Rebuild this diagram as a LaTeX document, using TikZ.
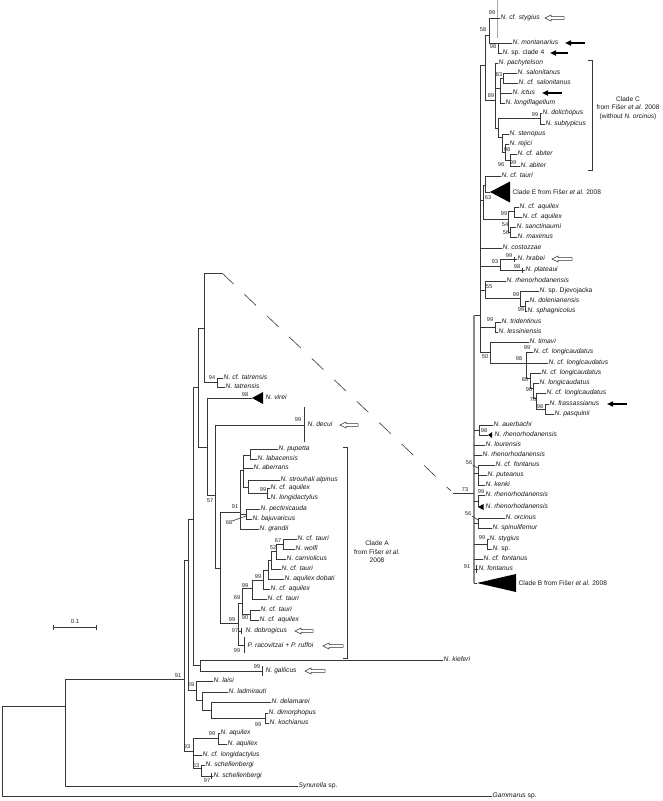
\documentclass[tikz,border=0pt]{standalone}
\usepackage{fontspec}
\setmainfont{Liberation Sans}
\usetikzlibrary{arrows.meta}
\newcommand\lfont{\fontsize{6.7}{7}\selectfont\itshape}
\newcommand\bfont{\fontsize{5.6}{6}\selectfont}
\newcommand\cfont{\fontsize{6.6}{8.5}\selectfont}
\newcounter{bsc}
\newcommand\bsl[3]{\stepcounter{bsc}\node[bsv] (bs\arabic{bsc}) at (#1,#2) {#3};}
\newcommand\leafnode[4]{\node[leaf] (#1) at (#2,#3) {#4};}
\newcommand\hln[3]{\draw[br] (#1,#3) -- (#2,#3);}
\newcommand\vln[3]{\draw[br] (#1,#2) -- (#1,#3);}
\newcommand\tobr[3]{\draw[br] (#1,#2) -- (#3.west);}
\newcommand\tri[4]{\fill[black] (#1,#2) -- (#3,#2-#4) -- (#3,#2+#4) -- cycle;}
\newcommand\hollowarr[3]{\draw[harr] (#1,#3) -- (#1+6,#3-3) -- (#1+6,#3-1.3) -- (#2,#3-1.3) -- (#2,#3+1.3) -- (#1+6,#3+1.3) -- (#1+6,#3+3) -- cycle;}
\newcommand\blackarr[3]{\draw[barr] (#2,#3) -- (#1,#3);}
\tikzset{
  br/.style={draw=black!78, line width=0.6pt},
  bk/.style={draw=black!45, line width=1.6pt},
  leaf/.style={anchor=west, inner sep=0.5pt, font=\lfont, text=black!90, text height=4.8pt, text depth=1.3pt},
  bsv/.style={inner sep=0pt, font=\bfont, text=black!85},
  clabel/.style={anchor=west, inner sep=0.5pt, font=\cfont, text=black!90},
  cblock/.style={inner sep=0pt, font=\cfont, text=black!90, align=center},
  harr/.style={draw=black!80, fill=white, line width=0.5pt},
  barr/.style={draw=black, line width=1.6pt, -{Triangle[length=6pt,width=5pt]}}
}
\begin{document}
\begin{tikzpicture}[x=1pt,y=-1pt]
\useasboundingbox (0,0) rectangle (662,801);
\fill[white] (0,0) rectangle (662,801);

% ---------------- right tree leaves
\leafnode{r1}{500}{18}{N. cf. stygius}
\leafnode{r2}{512}{43}{N. montanarius}
\leafnode{r3}{502}{53}{N. \textup{sp. clade 4}}
\leafnode{r4}{498}{63}{N. pachytelson}
\leafnode{r5}{517}{73}{N. salonitanus}
\leafnode{r6}{518}{83}{N. cf. salonitanus}
\leafnode{r7}{512}{93}{N. ictus}
\leafnode{r8}{505}{103}{N. longiflagellum}
\leafnode{r9}{542}{113}{N. dolichopus}
\leafnode{r10}{545}{124}{N. subtypicus}
\leafnode{r11}{509}{134}{N. stenopus}
\leafnode{r12}{509}{144}{N. rejici}
\leafnode{r13}{517}{154}{N. cf. abiter}
\leafnode{r14}{520}{166}{N. abiter}
\leafnode{r15}{501}{176}{N. cf. tauri}
\leafnode{r17}{519}{207}{N. cf. aquilex}
\leafnode{r18}{522}{217}{N. cf. aquilex}
\leafnode{r19}{516}{227}{N. sanctinaumi}
\leafnode{r20}{517}{237}{N. maximus}
\leafnode{r21}{502}{248}{N. costozzae}
\leafnode{r22}{517}{259}{N. hrabei}
\leafnode{r23}{525}{270}{N. plateaui}
\leafnode{r24}{506}{281}{N. rhenorhodanensis}
\leafnode{r25}{539}{291}{N. \textup{sp. Djevojacka}}
\leafnode{r26}{529}{301}{N. dolenianensis}
\leafnode{r27}{527}{311}{N. sphagnicolus}
\leafnode{r28}{501}{322}{N. tridentinus}
\leafnode{r29}{498}{332}{N. lessiniensis}
\leafnode{r30}{529}{342}{N. timavi}
\leafnode{r31}{533}{352}{N. cf. longicaudatus}
\leafnode{r32}{548}{363}{N. cf. longicaudatus}
\leafnode{r33}{541}{373}{N. cf. longicaudatus}
\leafnode{r34}{539}{383}{N. longicaudatus}
\leafnode{r35}{546}{393}{N. cf. longicaudatus}
\leafnode{r36}{549}{404}{N. frassassianus}
\leafnode{r37}{554}{414}{N. pasquinii}
\leafnode{r38}{493}{425}{N. auerbachi}
\leafnode{r39}{494}{435}{N. rhenorhodanensis}
\leafnode{r40}{485}{445}{N. lourensis}
\leafnode{r41}{482}{455}{N. rhenorhodanensis}
\leafnode{r42}{495}{465}{N. cf. fontanus}
\leafnode{r43}{487}{475}{N. puteanus}
\leafnode{r44}{485}{485}{N. kenki}
\leafnode{r45}{485}{495}{N. rhenorhodanensis}
\leafnode{r46}{485}{507}{N. rhenorhodanensis}
\leafnode{r47}{505}{518}{N. orcinus}
\leafnode{r48}{492}{528}{N. spinulifemur}
\leafnode{r49}{489}{539}{N. stygius}
\leafnode{r50}{492}{549}{N. \textup{sp.}}
\leafnode{r51}{483}{559}{N. cf. fontanus}
\leafnode{r52}{478}{569}{N. fontanus}

% ---------------- right tree branches
\draw[br, draw=black!35] (497,0) -- (497,38);
\tobr{489}{18}{r1}
\vln{489}{18}{43}
\hln{485}{489}{35}
\tobr{489}{43}{r2}
\vln{498}{43}{53}
\tobr{498}{53}{r3}
\vln{485}{35}{100}
\hln{480}{485}{65}
\hln{485}{495}{100}
\vln{495}{63}{128}
\tobr{495}{63}{r4}
\hln{495}{500}{88}
\vln{500}{78}{103}
\hln{500}{503}{78}
\vln{503}{73}{83}
\tobr{503}{73}{r5}
\tobr{503}{83}{r6}
\tobr{500}{93}{r7}
\tobr{500}{103}{r8}
\hln{495}{498}{128}
\vln{498}{118}{137}
\hln{498}{540}{118}
\vln{540}{113}{124}
\tobr{540}{113}{r9}
\tobr{540}{124}{r10}
\hln{498}{502}{137}
\vln{502}{134}{152}
\tobr{502}{134}{r11}
\hln{502}{505}{152}
\vln{505}{144}{160}
\tobr{505}{144}{r12}
\hln{505}{510}{160}
\vln{510}{154}{166}
\tobr{510}{154}{r13}
\tobr{510}{166}{r14}

\vln{480}{65}{352}
\hln{474}{480}{315}
\hln{480}{483}{200}
\vln{483}{185}{219}
\hln{483}{485}{185}
\vln{485}{176}{192}
\tobr{485}{176}{r15}
\hln{485}{490}{192}
\tri{490}{192}{510}{10.5}
\node[clabel] (cladeE) at (512,192) {Clade E from Fišer \textit{et al.} 2008};
\hln{483}{508}{219}
\vln{508}{211}{232}
\hln{508}{514}{211}
\vln{514}{207}{217}
\tobr{514}{207}{r17}
\tobr{514}{217}{r18}
\hln{508}{510}{232}
\vln{510}{227}{237}
\tobr{510}{227}{r19}
\tobr{510}{237}{r20}
\tobr{480}{248}{r21}
\hln{480}{500}{266}
\vln{500}{259}{270}
\hln{500}{514}{259}
\vln{514}{256.5}{261.5}
\tobr{514}{259}{r22}
\hln{500}{522}{270}
\vln{522}{267.5}{272.5}
\tobr{522}{270}{r23}
\hln{480}{485}{290}
\vln{485}{281}{298}
\tobr{485}{281}{r24}
\hln{485}{520}{298}
\vln{520}{291}{306}
\tobr{520}{291}{r25}
\hln{520}{525}{306}
\vln{525}{301}{311}
\tobr{525}{301}{r26}
\tobr{525}{311}{r27}
\hln{480}{495}{327}
\vln{495}{322}{332}
\tobr{495}{322}{r28}
\tobr{495}{332}{r29}
\hln{480}{490}{352}
\vln{490}{342}{363}
\tobr{490}{342}{r30}
\hln{490}{526}{363}
\vln{526}{352}{378}
\tobr{526}{352}{r31}
\tobr{526}{363}{r32}
\hln{526}{530}{378}
\vln{530}{373}{388}
\tobr{530}{373}{r33}
\hln{530}{533}{388}
\vln{533}{383}{398}
\tobr{533}{383}{r34}
\hln{533}{536}{398}
\vln{536}{393}{409}
\tobr{536}{393}{r35}
\hln{536}{545}{409}
\vln{545}{404}{414}
\tobr{545}{404}{r36}
\tobr{545}{414}{r37}

\draw[bk] (474,315) -- (474,583);
\hln{474}{479}{430}
\vln{479}{425}{435}
\tobr{479}{425}{r38}
\hln{479}{488}{435}
\tri{488}{435}{492}{2.8}
\tobr{474}{445}{r40}
\tobr{474}{455}{r41}
\hln{474}{478}{473}
\vln{478}{465}{485}
\tobr{478}{465}{r42}
\tobr{478}{475}{r43}
\tobr{478}{485}{r44}
\draw[br] (472.5,465) -- (478,468);
\hln{453}{474}{493}
\hln{474}{478}{501}
\vln{478}{495}{507}
\tobr{478}{495}{r45}
\tri{478}{507}{483.5}{3}
\hln{474}{478}{523}
\vln{478}{518}{528}
\tobr{478}{518}{r47}
\tobr{478}{528}{r48}
\draw[br] (472,516) -- (478,520);
\hln{474}{487}{544}
\vln{487}{539}{549}
\tobr{487}{539}{r49}
\tobr{487}{549}{r50}
\tobr{474}{559}{r51}
\tobr{474}{569}{r52}
\vln{476}{565}{573}
\hln{474}{477}{583}
\tri{477}{583}{516}{9}
\node[clabel] (cladeB) at (518,583) {Clade B from Fišer \textit{et al.} 2008};

% right bootstrap values
\bsl{492}{13}{99}
\bsl{483}{30}{58}
\bsl{493}{47}{98}
\bsl{499}{75}{83}
\bsl{491}{96}{89}
\bsl{535}{115}{99}
\bsl{507}{150}{98}
\bsl{501}{165}{96}
\bsl{513}{163}{99}
\bsl{488}{198}{63}
\bsl{504}{214}{99}
\bsl{505}{225}{54}
\bsl{506}{233}{56}
\bsl{509}{256}{99}
\bsl{495}{262}{93}
\bsl{517}{267}{98}
\bsl{489}{287}{55}
\bsl{516}{295}{99}
\bsl{521}{310}{99}
\bsl{490}{320}{99}
\bsl{527}{348}{99}
\bsl{485}{357}{50}
\bsl{519}{359}{98}
\bsl{525}{380}{80}
\bsl{529}{390}{90}
\bsl{533}{400}{70}
\bsl{540}{407}{98}
\bsl{484}{431}{98}
\bsl{469}{463}{56}
\bsl{465}{490}{73}
\bsl{481}{492}{99}
\bsl{468}{514}{56}
\bsl{482}{538}{99}
\bsl{467}{567}{91}

% clade C bracket
\draw[br] (588,60) -- (592,60) -- (592,170) -- (588,170);
\node[cblock] (cladeC) at (628,108) {Clade C\\from Fišer \textit{et al.} 2008\\(without \textit{N. orcinus})};

% ---------------- left tree leaves
\leafnode{l1}{223}{378}{N. cf. tatrensis}
\leafnode{l2}{225}{387}{N. tatrensis}
\leafnode{l3}{265}{398}{N. virei}
\leafnode{l4}{307}{425}{N. decui}
\leafnode{l5}{278}{449}{N. pupetta}
\leafnode{l6}{257}{459}{N. labacensis}
\leafnode{l7}{253}{468}{N. aberrans}
\leafnode{l8}{280}{480}{N. strouhali alpinus}
\leafnode{l9}{270}{488}{N. cf. aquilex}
\leafnode{l10}{270}{498}{N. longidactylus}
\leafnode{l11}{260}{509}{N. pectinicauda}
\leafnode{l12}{252}{519}{N. bajuvaricus}
\leafnode{l13}{259}{529}{N. grandii}
\leafnode{l14}{297}{539}{N. cf. tauri}
\leafnode{l15}{295}{549}{N. wolfi}
\leafnode{l16}{286}{559}{N. carniolicus}
\leafnode{l17}{281}{569}{N. cf. tauri}
\leafnode{l18}{284}{579}{N. aquilex dobati}
\leafnode{l19}{270}{589}{N. cf. aquilex}
\leafnode{l20}{267}{599}{N. cf. tauri}
\leafnode{l21}{260}{610}{N. cf. tauri}
\leafnode{l22}{259}{620}{N. cf. aquilex}
\leafnode{l23}{245}{631}{N. dobrogicus}
\leafnode{l24}{247}{646}{P. racovitzai \textup{+} P. ruffoi}
\leafnode{l25}{443}{660}{N. kieferi}
\leafnode{l26}{265}{671}{N. gallicus}
\leafnode{l27}{213}{681}{N. laisi}
\leafnode{l28}{228}{692}{N. ladmirauti}
\leafnode{l29}{271}{702}{N. delamarei}
\leafnode{l30}{268}{713}{N. dimorphopus}
\leafnode{l31}{269}{723}{N. kochianus}
\leafnode{l32}{220}{733}{N. aquilex}
\leafnode{l33}{227}{744}{N. aquilex}
\leafnode{l34}{202}{755}{N. cf. longidactylus}
\leafnode{l35}{205}{765}{N. schellenbergi}
\leafnode{l36}{213}{776}{N. schellenbergi}
\leafnode{l37}{298}{786}{Synurella \textup{sp.}}
\leafnode{l38}{492}{796}{Gammarus \textup{sp.}}

% ---------------- left tree branches
\vln{2}{706}{796}
\hln{2}{65}{706}
\tobr{2}{796}{l38}
\vln{65}{679}{786}
\tobr{65}{786}{l37}
\hln{65}{184}{679}
\vln{184}{560}{751}
\hln{184}{188}{560}
\hln{184}{193}{751}
\vln{188}{519}{690}
\hln{188}{193}{519}
\hln{188}{196}{690}
\vln{193}{387}{665}
\hln{193}{198}{387}
\hln{193}{200}{665}
\vln{198}{328}{447}
\hln{198}{204}{328}
\hln{198}{207}{447}
\vln{204}{273}{382}
\hln{204}{222}{273}
\draw[br, dash pattern=on 16pt off 15pt] (222,273) -- (451,491);
\hln{204}{217}{382}
\vln{217}{378}{387}
\tobr{217}{378}{l1}
\tobr{217}{387}{l2}
\vln{207}{398}{495}
\hln{207}{252}{398}
\tri{252}{398}{263}{6}
\hln{207}{215}{495}
\vln{215}{425}{568}
\hln{215}{304}{425}
\vln{304}{407}{442}
\hln{215}{220}{568}
\vln{220}{512}{623}
\hln{220}{240}{512}
\hln{220}{238}{623}
\vln{240}{470}{529}
\hln{240}{243}{470}
\hln{240}{246}{514}
\tobr{240}{529}{l13}
\vln{243}{455}{487}
\hln{243}{250}{455}
\vln{250}{449}{459}
\tobr{250}{449}{l5}
\tobr{250}{459}{l6}
\tobr{243}{468}{l7}
\hln{243}{248}{487}
\vln{248}{480}{493}
\tobr{248}{480}{l8}
\hln{248}{267}{493}
\vln{267}{488}{498}
\tobr{267}{488}{l9}
\tobr{267}{498}{l10}
\vln{246}{509}{519}
\tobr{246}{509}{l11}
\tobr{246}{519}{l12}
\draw[br] (232,521) -- (246,516);
\vln{238}{603}{645}
\hln{238}{242}{603}
\hln{238}{241}{631}
\vln{241}{628}{634}
\hln{238}{244}{645}
\vln{244}{637}{653}
\vln{242}{588}{614}
\hln{242}{252}{588}
\hln{242}{250}{614}
\vln{252}{580}{599}
\hln{252}{263}{580}
\tobr{252}{599}{l20}
\vln{263}{570}{589}
\hln{263}{268}{570}
\tobr{263}{589}{l19}
\vln{268}{560}{579}
\hln{268}{271}{560}
\tobr{268}{579}{l18}
\vln{271}{551}{569}
\hln{271}{276}{551}
\tobr{271}{569}{l17}
\vln{276}{544}{559}
\hln{276}{283}{544}
\tobr{276}{559}{l16}
\vln{283}{539}{549}
\tobr{283}{539}{l14}
\tobr{283}{549}{l15}
\vln{250}{610}{620}
\tobr{250}{610}{l21}
\tobr{250}{620}{l22}
\vln{200}{660}{671}
\tobr{200}{660}{l25}
\hln{200}{262}{671}
\vln{262}{666}{676}
\vln{196}{681}{700}
\tobr{196}{681}{l27}
\hln{196}{202}{700}
\vln{202}{692}{710}
\tobr{202}{692}{l28}
\hln{202}{211}{710}
\vln{211}{702}{718}
\tobr{211}{702}{l29}
\hln{211}{265}{718}
\vln{265}{713}{723}
\tobr{265}{713}{l30}
\tobr{265}{723}{l31}
\vln{193}{738}{768}
\hln{193}{218}{738}
\vln{218}{733}{744}
\tobr{218}{733}{l32}
\tobr{218}{744}{l33}
\tobr{193}{755}{l34}
\hln{193}{201}{768}
\vln{201}{765}{776}
\tobr{201}{765}{l35}
\hln{201}{211}{776}
\vln{211}{773}{779}
\tobr{211}{776}{l36}

% left bootstrap values
\bsl{212}{378}{94}
\bsl{245}{395}{98}
\bsl{298}{420}{99}
\bsl{263}{490}{99}
\bsl{235}{507}{91}
\bsl{229}{523}{68}
\bsl{210}{501}{57}
\bsl{278}{541}{67}
\bsl{273}{548}{52}
\bsl{258}{577}{99}
\bsl{245}{586}{99}
\bsl{237}{598}{69}
\bsl{232}{620}{99}
\bsl{245}{618}{90}
\bsl{235}{631}{97}
\bsl{237}{651}{99}
\bsl{257}{667}{99}
\bsl{178}{676}{91}
\bsl{191}{685}{59}
\bsl{258}{725}{99}
\bsl{212}{734}{99}
\bsl{187}{747}{93}
\bsl{196}{766}{63}
\bsl{207}{781}{97}

% clade A bracket
\draw[br] (343,447) -- (347,447) -- (347,658) -- (343,658);
\node[cblock] (cladeA) at (377,552) {Clade A\\from Fišer \textit{et al.}\\2008};

% scale bar
\draw[br] (53,627) -- (96,627);
\draw[br] (53,624.5) -- (53,629.5);
\draw[br] (96,624.5) -- (96,629.5);
\node[bsv, font=\fontsize{6}{7}\selectfont] (scale) at (75,621) {0.1};

% arrows
\hollowarr{545}{564}{18}
\hollowarr{552}{572}{259}
\hollowarr{340}{358}{425}
\hollowarr{295}{313}{631}
\hollowarr{323}{343}{646}
\hollowarr{305}{325}{671}
\blackarr{565}{585}{43}
\blackarr{550}{568}{53}
\blackarr{542}{562}{93}
\blackarr{607}{627}{404}
\end{tikzpicture}
\end{document}
